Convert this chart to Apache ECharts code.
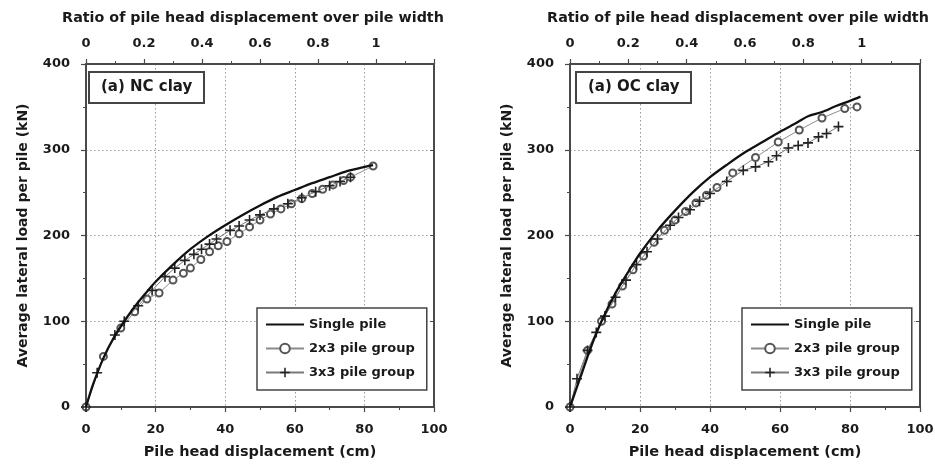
<!DOCTYPE html>
<html>
<head>
<meta charset="utf-8">
<script src="https://cdn.jsdelivr.net/npm/echarts@6/dist/echarts.min.js"></script>
<style>
  html, body { margin: 0; padding: 0; background: #ffffff; }
  #chart { width: 935px; height: 466px; }
</style>
</head>
<body>
<div id="chart"></div>
<script>
// ---- Load–displacement curves, normally consolidated (NC) clay ----
const ncSingleX = [0, 2, 5, 8, 11, 14, 17, 20, 25, 30, 35, 40, 45, 50, 55, 60, 65, 70, 75, 80, 82.5];
const ncSingleY = [0, 26, 57, 81, 100, 117, 132, 146, 166, 184, 199, 212, 224, 235, 245, 253, 261, 268, 275, 280, 282];

const ncGroup23X = [0, 5, 10, 14, 17.5, 21, 25, 28, 30, 33, 35.5, 38, 40.5, 44, 47, 50, 53, 56, 59, 62, 65, 68, 71, 74, 76, 82.5];
const ncGroup23Y = [0, 59, 92, 111, 126, 133, 148, 156, 162, 172, 181, 188, 193, 202, 210, 218, 225, 231, 237, 243, 249, 254, 259, 264, 268, 281];

const ncGroup33X = [0, 3.2, 8.3, 11, 15, 19, 22.7, 25.5, 28.4, 31, 33.2, 35.5, 37.5, 41.4, 44, 47, 50, 54, 58, 62, 66, 70, 73, 76];
const ncGroup33Y = [0, 40, 84, 100, 118, 136, 152, 162, 171, 178, 184, 190, 196, 206, 211, 218, 224, 231, 237, 244, 251, 258, 263, 268];

// ---- Load–displacement curves, overconsolidated (OC) clay ----
const ocSingleX = [0, 3, 6, 9, 13, 17, 20, 25, 30, 35, 40, 45, 50, 55, 60, 65, 68, 72, 76, 80, 83];
const ocSingleY = [0, 35, 70, 100, 133, 160, 179, 206, 229, 250, 268, 283, 297, 309, 321, 332, 339, 344, 351, 357, 362];

const ocGroup23X = [0, 5, 9, 12, 15, 18, 21, 24, 27, 30, 33, 36, 39, 42, 46.5, 53, 59.5, 65.5, 72, 78.5, 82];
const ocGroup23Y = [0, 66, 100, 120, 141, 160, 176, 192, 206, 218, 228, 238, 247, 256, 273, 291, 309, 323, 337, 348, 350];

const ocGroup33X = [0, 2, 5, 7.5, 10, 13, 16, 19, 22, 25, 28.6, 31, 34.3, 37, 40, 44.8, 49.5, 53, 56.7, 59, 62.4, 65.2, 68, 71, 73.3, 76.7];
const ocGroup33Y = [0, 33, 66, 87, 106, 128, 148, 166, 181, 196, 212, 221, 230, 240, 249, 263, 276, 280, 286, 293, 302, 305, 308, 315, 319, 327];

// ---- Axis settings ----
const dispTicks = [0, 20, 40, 60, 80, 100];
const ratioTicks = [0, 0.2, 0.4, 0.6, 0.8, 1];
const loadTicks = [0, 100, 200, 300, 400];
const panelLabels = ['(a) NC clay', '(a) OC clay'];
const seriesNames = ['Single pile', '2x3 pile group', '3x3 pile group'];
const bottomTitle = 'Pile head displacement (cm)';
const topTitle = 'Ratio of pile head displacement over pile width';
const leftTitle = 'Average lateral load per pile (kN)';

const zip = (xs, ys) => xs.map((x, i) => [x, ys[i]]);

const FONT = 'DejaVu Sans';
const TXT = '#1a1a1a';
const AXIS = '#4a4a4a';
const PLUS = 'path://M4.2,0H5.8V4.2H10V5.8H5.8V10H4.2V5.8H0V4.2H4.2Z';

const grids = [
  { left: 86, right: 501, top: 64, bottom: 59, outerBoundsMode: 'none', containLabel: false },
  { left: 570, right: 15, top: 64, bottom: 59, outerBoundsMode: 'none', containLabel: false }
];

function bottomAxis(gi) {
  return {
    type: 'value', gridIndex: gi, position: 'bottom',
    min: dispTicks[0], max: dispTicks[dispTicks.length - 1], interval: dispTicks[1] - dispTicks[0],
    name: bottomTitle, nameLocation: 'middle', nameGap: 38,
    nameTextStyle: { fontFamily: FONT, fontWeight: 'bold', fontSize: 14.5, color: TXT },
    axisLine: { show: true, onZero: false, lineStyle: { color: AXIS, width: 2 } },
    axisTick: { show: true, length: 5, lineStyle: { color: AXIS, width: 1.2 } },
    minorTick: { show: true, splitNumber: 2, length: 3, lineStyle: { color: AXIS, width: 1 } },
    axisLabel: { margin: 16, fontFamily: FONT, fontWeight: 'bold', fontSize: 13, color: TXT },
    splitLine: { show: true, lineStyle: { color: '#9a9a9a', width: 1, type: [1.5, 2.5] } }
  };
}

function topAxis(gi) {
  return {
    type: 'value', gridIndex: gi, position: 'top',
    min: 0, max: 1.2, interval: 0.2,
    name: topTitle, nameLocation: 'middle', nameGap: 39,
    nameTextStyle: { fontFamily: FONT, fontWeight: 'bold', fontSize: 14.3, color: TXT, padding: [0, 14, 0, 0] },
    axisLine: { show: true, onZero: false, lineStyle: { color: AXIS, width: 2 } },
    axisTick: { show: true, length: 5, lineStyle: { color: AXIS, width: 1.2 } },
    minorTick: { show: true, splitNumber: 2, length: 3, lineStyle: { color: AXIS, width: 1 } },
    axisLabel: {
      margin: 14, fontFamily: FONT, fontWeight: 'bold', fontSize: 13, color: TXT,
      formatter: v => {
        const r = Math.round(v * 10) / 10;
        return ratioTicks.indexOf(r) >= 0 ? String(r) : '';
      }
    },
    splitLine: { show: false }
  };
}

function leftAxis(gi) {
  return {
    type: 'value', gridIndex: gi, position: 'left',
    min: loadTicks[0], max: loadTicks[loadTicks.length - 1], interval: loadTicks[1] - loadTicks[0],
    name: leftTitle, nameLocation: 'middle', nameGap: 56,
    nameTextStyle: { fontFamily: FONT, fontWeight: 'bold', fontSize: 14, color: TXT },
    axisLine: { show: true, onZero: false, lineStyle: { color: AXIS, width: 2 } },
    axisTick: { show: true, length: 5, lineStyle: { color: AXIS, width: 1.2 } },
    minorTick: { show: true, splitNumber: 2, length: 3, lineStyle: { color: AXIS, width: 1 } },
    axisLabel: { margin: 16, fontFamily: FONT, fontWeight: 'bold', fontSize: 13, color: TXT },
    splitLine: { show: true, lineStyle: { color: '#9a9a9a', width: 1, type: [1.5, 2.5] } }
  };
}

function rightAxis(gi) {
  return {
    type: 'value', gridIndex: gi, position: 'right',
    min: loadTicks[0], max: loadTicks[loadTicks.length - 1], interval: loadTicks[1] - loadTicks[0],
    axisLine: { show: true, onZero: false, lineStyle: { color: AXIS, width: 2 } },
    axisTick: { show: true, inside: true, length: 4, lineStyle: { color: AXIS, width: 1 } },
    minorTick: { show: false },
    axisLabel: { show: false },
    splitLine: { show: false }
  };
}

function panelSeries(xIdx, yIdx, s, g23, g33) {
  return [
    {
      name: seriesNames[0], type: 'line', xAxisIndex: xIdx, yAxisIndex: yIdx,
      data: s, symbol: 'none', smooth: 0.3, z: 5,
      lineStyle: { color: '#111111', width: 2.3 },
      itemStyle: { color: '#111111' }
    },
    {
      name: seriesNames[1], type: 'line', xAxisIndex: xIdx, yAxisIndex: yIdx,
      data: g23, symbol: 'emptyCircle', symbolSize: 7, z: 3,
      lineStyle: { color: '#8c8c8c', width: 1 },
      itemStyle: { color: '#555555', borderColor: '#555555', borderWidth: 1.2 }
    },
    {
      name: seriesNames[2], type: 'line', xAxisIndex: xIdx, yAxisIndex: yIdx,
      data: g33, symbol: PLUS, symbolSize: 10, z: 4,
      lineStyle: { color: '#7a7a7a', width: 1 },
      itemStyle: { color: '#222222' }
    }
  ];
}

function legendAt(left) {
  return {
    left: left, top: 308, orient: 'vertical',
    data: [
      { name: seriesNames[0], itemStyle: { opacity: 0 } },
      { name: seriesNames[1] },
      { name: seriesNames[2] }
    ],
    itemWidth: 38, itemHeight: 12, itemGap: 11,
    padding: [10, 12, 11, 8],
    borderColor: '#444444', borderWidth: 1.5,
    backgroundColor: '#ffffff',
    selectedMode: false,
    textStyle: { fontFamily: FONT, fontWeight: 'bold', fontSize: 13, color: TXT }
  };
}

function panelLabel(i, left) {
  return {
    text: panelLabels[i], left: left, top: 72,
    padding: [8, 12],
    borderColor: '#444444', borderWidth: 2,
    backgroundColor: '#ffffff',
    textStyle: { fontFamily: FONT, fontWeight: 'bold', fontSize: 15, color: TXT }
  };
}

const chart = echarts.init(document.getElementById('chart'), null, { renderer: 'canvas' });
chart.setOption({
  animation: false,
  backgroundColor: '#ffffff',
  title: [panelLabel(0, 89), panelLabel(1, 576)],
  legend: [legendAt(257), legendAt(742)],
  grid: grids,
  xAxis: [bottomAxis(0), topAxis(0), bottomAxis(1), topAxis(1)],
  yAxis: [leftAxis(0), rightAxis(0), leftAxis(1), rightAxis(1)],
  series: [].concat(
    panelSeries(0, 0, zip(ncSingleX, ncSingleY), zip(ncGroup23X, ncGroup23Y), zip(ncGroup33X, ncGroup33Y)),
    panelSeries(2, 2, zip(ocSingleX, ocSingleY), zip(ocGroup23X, ocGroup23Y), zip(ocGroup33X, ocGroup33Y))
  )
});
</script>
</body>
</html>
